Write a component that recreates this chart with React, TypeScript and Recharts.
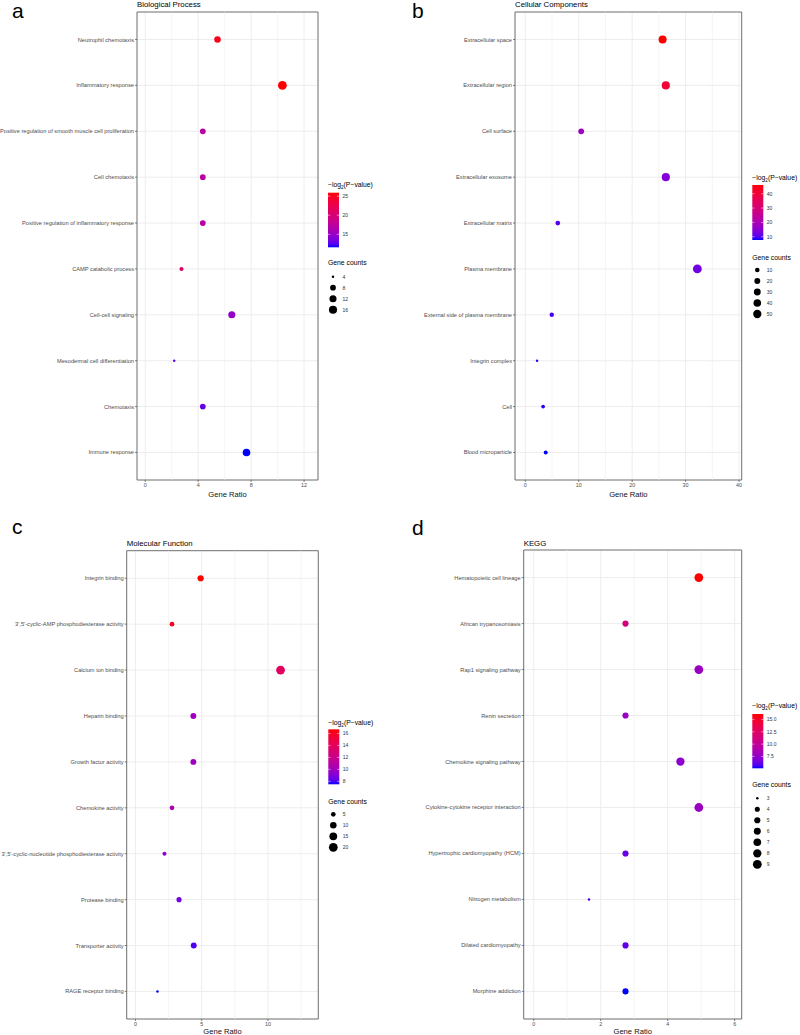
import React from 'react'
import { ScatterChart, Scatter, XAxis, YAxis, CartesianGrid, ReferenceLine, ReferenceArea } from 'recharts'

const FONT = '"Liberation Sans", Arial, Helvetica, sans-serif'

// ---- a: Biological Process ----
const bpTerms = [
  'Neutrophil chemotaxis', 'Inflammatory response', 'Positive regulation of smooth muscle cell proliferation',
  'Cell chemotaxis', 'Positive regulation of inflammatory response', 'CAMP catabolic process',
  'Cell-cell signaling', 'Mesodermal cell differentiation', 'Chemotaxis', 'Immune response',
]
const bpRatio = [5.46, 10.36, 4.35, 4.35, 4.35, 2.74, 6.54, 2.19, 4.35, 7.65]
const bpCount = [10, 19, 8, 8, 8, 5, 12, 4, 8, 14]
const bpLogP = [25.2, 25.9, 17.3, 17.3, 17.1, 20.9, 14.8, 13.0, 13.0, 11.6]
const bpColorBreaks = [15, 20, 25]
const bpSizeBreaks = [4, 8, 12, 16]

// ---- b: Cellular Components ----
const ccTerms = [
  'Extracellular space', 'Extracellular region', 'Cell surface', 'Extracellular exosome', 'Extracellular matrix',
  'Plasma membrane', 'External side of plasma membrane', 'Integrin complex', 'Cell', 'Blood microparticle',
]
const ccRatio = [25.7, 26.3, 10.46, 26.3, 6.08, 32.2, 4.95, 2.2, 3.33, 3.82]
const ccCount = [47, 48, 19, 48, 11, 59, 9, 4, 6, 7]
const ccLogP = [46.1, 40.3, 18.0, 14.2, 10.0, 12.3, 9.2, 8.3, 8.2, 7.7]
const ccColorBreaks = [10, 20, 30, 40]
const ccSizeBreaks = [10, 20, 30, 40, 50]

// ---- c: Molecular Function ----
const mfTerms = [
  'Integrin binding', "3',5'-cyclic-AMP phosphodiesterase activity", 'Calcium ion binding', 'Heparin binding',
  'Growth factor activity', 'Chemokine activity', "3',5'-cyclic-nucleotide phosphodiesterase activity",
  'Protease binding', 'Transporter activity', 'RAGE receptor binding',
]
const mfRatio = [4.92, 2.76, 10.95, 4.37, 4.37, 2.76, 2.19, 3.29, 4.4, 1.66]
const mfCount = [9, 5, 20, 8, 8, 5, 4, 6, 8, 3]
const mfLogP = [16.7, 16.2, 13.9, 10.0, 10.0, 10.5, 9.3, 8.6, 8.0, 7.5]
const mfColorBreaks = [8, 10, 12, 14, 16]
const mfSizeBreaks = [5, 10, 15, 20]

// ---- d: KEGG ----
const kgTerms = [
  'Hematopoietic cell lineage', 'African trypanosomiasis', 'Rap1 signaling pathway', 'Renin secretion',
  'Chemokine signaling pathway', 'Cytokine-cytokine receptor interaction', 'Hypertrophic cardiomyopathy (HCM)',
  'Nitrogen metabolism', 'Dilated cardiomyopathy', 'Morphine addiction',
]
const kgRatio = [4.93, 2.74, 4.93, 2.74, 4.38, 4.93, 2.74, 1.65, 2.74, 2.74]
const kgCount = [9, 5, 9, 5, 8, 9, 5, 3, 5, 5]
const kgLogP = [16.1, 11.2, 7.9, 7.8, 7.3, 7.9, 6.2, 5.6, 6.0, 5.1]
const kgColorBreaks = [7.5, 10, 12.5, 15]
const kgSizeBreaks = [3, 4, 5, 6, 7, 8, 9]

// blue -> red, interpolated in Lab like ggplot's scale_colour_gradient
function toLab([r, g, b]: number[]) {
  const lin = (c: number) => { c /= 255; return c <= 0.04045 ? c / 12.92 : Math.pow((c + 0.055) / 1.055, 2.4) }
  const R = lin(r), G = lin(g), B = lin(b)
  const X = (0.4124 * R + 0.3576 * G + 0.1805 * B) / 0.95047
  const Y = 0.2126 * R + 0.7152 * G + 0.0722 * B
  const Z = (0.0193 * R + 0.1192 * G + 0.9505 * B) / 1.08883
  const f = (t: number) => t > 0.008856 ? Math.cbrt(t) : 7.787 * t + 16 / 116
  return [116 * f(Y) - 16, 500 * (f(X) - f(Y)), 200 * (f(Y) - f(Z))]
}
function fromLab([L, a, bb]: number[]) {
  const fy = (L + 16) / 116, fx = fy + a / 500, fz = fy - bb / 200
  const inv = (t: number) => t * t * t > 0.008856 ? t * t * t : (t - 16 / 116) / 7.787
  const X = inv(fx) * 0.95047, Y = inv(fy), Z = inv(fz) * 1.08883
  const gam = (c: number) => {
    const v = c <= 0.0031308 ? 12.92 * c : 1.055 * Math.pow(c, 1 / 2.4) - 0.055
    return Math.round(Math.max(0, Math.min(1, v)) * 255)
  }
  const r = gam(3.2406 * X - 1.5372 * Y - 0.4986 * Z)
  const g = gam(-0.9689 * X + 1.8758 * Y + 0.0415 * Z)
  const b = gam(0.0557 * X - 0.204 * Y + 1.057 * Z)
  return `rgb(${r},${g},${b})`
}
const LAB_LO = toLab([0, 0, 255])
const LAB_HI = toLab([255, 0, 0])
function gradient(t: number) {
  const k = Math.max(0, Math.min(1, t))
  return fromLab(LAB_LO.map((v, i) => v + (LAB_HI[i] - v) * k))
}

const D_MIN = 2.5
const D_MAX = 8.8

type Spec = {
  key: string
  letter: string
  title: string
  terms: string[]
  ratio: number[]
  count: number[]
  logp: number[]
  colorBreaks: number[]
  colorLabels: string[]
  sizeBreaks: number[]
  domain: [number, number]
  ticks: number[]
  minor: number[]
  left: number
  top: number
  height: number
  plotLeft: number
  plotRight: number
  plotTop: number
  plotBottom: number
  labelOffset: number
  letterY: number
  titleY: number
  legX: number
  legTitleY: number
  barTop: number
  barBottom: number
  gcTitleY: number
  itemY0: number
}

const specs: Spec[] = [
  {
    key: 'a', letter: 'a', title: 'Biological Process',
    terms: bpTerms, ratio: bpRatio, count: bpCount, logp: bpLogP,
    colorBreaks: bpColorBreaks, colorLabels: bpColorBreaks.map(String), sizeBreaks: bpSizeBreaks,
    domain: [-0.62, 13.05], ticks: [0, 4, 8, 12], minor: [2, 6, 10],
    left: 0, top: 0, height: 500, plotLeft: 137, plotRight: 318, plotTop: 12, plotBottom: 480, labelOffset: 3.5,
    letterY: 18, titleY: 7,
    legX: 328, legTitleY: 187, barTop: 192.7, barBottom: 247.3, gcTitleY: 265, itemY0: 276.7,
  },
  {
    key: 'b', letter: 'b', title: 'Cellular Components',
    terms: ccTerms, ratio: ccRatio, count: ccCount, logp: ccLogP,
    colorBreaks: ccColorBreaks, colorLabels: ccColorBreaks.map(String), sizeBreaks: ccSizeBreaks,
    domain: [-1.93, 40.5], ticks: [0, 10, 20, 30, 40], minor: [5, 15, 25, 35],
    left: 400, top: 0, height: 500, plotLeft: 515, plotRight: 741.7, plotTop: 12, plotBottom: 480, labelOffset: 3.5,
    letterY: 18, titleY: 7,
    legX: 752.3, legTitleY: 180, barTop: 185, barBottom: 240, gcTitleY: 260, itemY0: 270,
  },
  {
    key: 'c', letter: 'c', title: 'Molecular Function',
    terms: mfTerms, ratio: mfRatio, count: mfCount, logp: mfLogP,
    colorBreaks: mfColorBreaks, colorLabels: mfColorBreaks.map(String), sizeBreaks: mfSizeBreaks,
    domain: [-0.66, 13.8], ticks: [0, 5, 10], minor: [2.5, 7.5, 12.5],
    left: 0, top: 500, height: 540, plotLeft: 126.7, plotRight: 318.3, plotTop: 550.7, plotBottom: 1019, labelOffset: 6.5,
    letterY: 533.5, titleY: 545.5,
    legX: 328.3, legTitleY: 725, barTop: 729.3, barBottom: 784.3, gcTitleY: 804, itemY0: 814.3,
  },
  {
    key: 'd', letter: 'd', title: 'KEGG',
    terms: kgTerms, ratio: kgRatio, count: kgCount, logp: kgLogP,
    colorBreaks: kgColorBreaks, colorLabels: kgColorBreaks.map(v => v.toFixed(1)), sizeBreaks: kgSizeBreaks,
    domain: [-0.3, 6.21], ticks: [0, 2, 4, 6], minor: [1, 3, 5],
    left: 400, top: 500, height: 540, plotLeft: 523.7, plotRight: 741.7, plotTop: 550, plotBottom: 1019, labelOffset: 6.5,
    letterY: 535, titleY: 545.5,
    legX: 752.3, legTitleY: 708, barTop: 714, barBottom: 768.3, gcTitleY: 787.3, itemY0: 798.3,
  },
]

function scalesFor(s: Spec) {
  const cMin = Math.min(...s.logp), cMax = Math.max(...s.logp)
  const sMin = Math.min(...s.count), sMax = Math.max(...s.count)
  const colorOf = (v: number) => gradient((v - cMin) / (cMax - cMin))
  const diamOf = (v: number) => D_MIN + (D_MAX - D_MIN) * Math.sqrt(Math.max(0, (v - sMin) / (sMax - sMin)))
  return { cMin, cMax, colorOf, diamOf }
}

const tickStyle = { fontSize: 5.4, fill: '#4D4D4D', fontFamily: FONT }
const termStyle = { fontSize: 5.7, fill: '#4D4D4D', fontFamily: FONT }

function Panel({ s }: { s: Spec }) {
  const n = s.terms.length
  const { colorOf, diamOf } = scalesFor(s)
  const rows = s.terms.map((term, i) => ({
    term, y: n - i, ratio: s.ratio[i], count: s.count[i], logp: s.logp[i],
  }))
  const yTicks = rows.map(r => r.y)
  const xAxisH = s.top + s.height - s.plotBottom
  // single-line category labels (no wrapping)
  const termTick = (p: any) => (
    <text x={p.x} y={p.y} dy="0.35em" textAnchor="end" {...termStyle}>
      {s.terms[n - p.payload.value]}
    </text>
  )
  return (
    <div style={{ position: 'absolute', left: s.left, top: s.top }}>
      <ScatterChart
        width={400}
        height={s.height}
        margin={{ top: s.plotTop - s.top, right: s.left + 400 - s.plotRight, bottom: 0, left: 0 }}
      >
        <CartesianGrid stroke="#EBEBEB" strokeWidth={0.9} />
        {s.minor.map(v => (
          <ReferenceLine key={v} x={v} stroke="#EFEFEF" strokeWidth={0.6} />
        ))}
        <XAxis
          type="number"
          dataKey="ratio"
          domain={s.domain}
          ticks={s.ticks}
          interval={0}
          allowDataOverflow
          height={xAxisH}
          tickSize={2}
          tickMargin={1}
          tick={tickStyle}
          axisLine={false}
          tickLine={{ stroke: '#333', strokeWidth: 0.6 }}
          label={{ value: 'Gene Ratio', position: 'insideBottom', offset: s.labelOffset, fontSize: 7.6, fill: '#111', fontFamily: FONT }}
        />
        <YAxis
          type="number"
          dataKey="y"
          domain={[0.4, n + 0.6]}
          ticks={yTicks}
          interval={0}
          allowDataOverflow
          width={s.plotLeft - s.left}
          tickSize={2}
          tickMargin={1}
          tick={termTick}
          axisLine={false}
          tickLine={{ stroke: '#333', strokeWidth: 0.6 }}
        />
        <ReferenceArea
          x1={s.domain[0]} x2={s.domain[1]} y1={0.4} y2={n + 0.6}
          fill="none" fillOpacity={0} stroke="#666" strokeWidth={0.9}
        />
        <Scatter
          data={rows}
          isAnimationActive={false}
          shape={(p: any) => (
            <circle cx={p.cx} cy={p.cy} r={diamOf(p.payload.count) / 2} fill={colorOf(p.payload.logp)} />
          )}
        />
      </ScatterChart>
    </div>
  )
}

function Legends() {
  const stops = Array.from({ length: 21 }, (_, i) => i / 20)
  return (
    <svg width={800} height={1035} style={{ position: 'absolute', left: 0, top: 0, pointerEvents: 'none' }}>
      <defs>
        <linearGradient id="cbar" x1="0" y1="0" x2="0" y2="1">
          {stops.map(t => <stop key={t} offset={t} stopColor={gradient(1 - t)} />)}
        </linearGradient>
      </defs>
      {specs.map(s => {
        const { cMin, cMax, diamOf } = scalesFor(s)
        const barW = 11
        const cx = s.legX + barW / 2
        const yOf = (v: number) => s.barTop + (cMax - v) / (cMax - cMin) * (s.barBottom - s.barTop)
        return (
          <g key={s.key} fontFamily={FONT}>
            <text x={s.left + 12} y={s.letterY} fontSize={21} fill="#000">{s.letter}</text>
            <text x={s.plotLeft} y={s.titleY} fontSize={7.8} fill="#000">{s.title}</text>
            <text x={s.legX} y={s.legTitleY} fontSize={6.8} fill="#000">
              {'\u2212log'}<tspan fontSize={4.6} dy={1.5}>2</tspan><tspan dy={-1.5}>{'(P\u2212value)'}</tspan>
            </text>
            <rect x={s.legX} y={s.barTop} width={barW} height={s.barBottom - s.barTop} fill="url(#cbar)" />
            {s.colorBreaks.map((v, i) => (
              <g key={v}>
                <line x1={s.legX} x2={s.legX + 2.2} y1={yOf(v)} y2={yOf(v)} stroke="#fff" strokeWidth={0.5} />
                <line x1={s.legX + barW - 2.2} x2={s.legX + barW} y1={yOf(v)} y2={yOf(v)} stroke="#fff" strokeWidth={0.5} />
                <text x={s.legX + 14.5} y={yOf(v) + 1.8} fontSize={5} fill="#333">{s.colorLabels[i]}</text>
              </g>
            ))}
            <text x={s.legX} y={s.gcTitleY} fontSize={6.8} fill="#000">Gene counts</text>
            {s.sizeBreaks.map((v, i) => {
              const y = s.itemY0 + i * 11
              return (
                <g key={v}>
                  <circle cx={cx - 0.5} cy={y} r={diamOf(v) / 2} fill="#000" />
                  <text x={s.legX + 14.5} y={y + 1.8} fontSize={5} fill="#333">{v}</text>
                </g>
              )
            })}
          </g>
        )
      })}
    </svg>
  )
}

export default function App() {
  return (
    <div style={{ position: 'absolute', left: 0, top: 0, width: 800, height: 1035, overflow: 'hidden', background: '#fff' }}>
      {specs.map(s => <Panel key={s.key} s={s} />)}
      <Legends />
    </div>
  )
}
